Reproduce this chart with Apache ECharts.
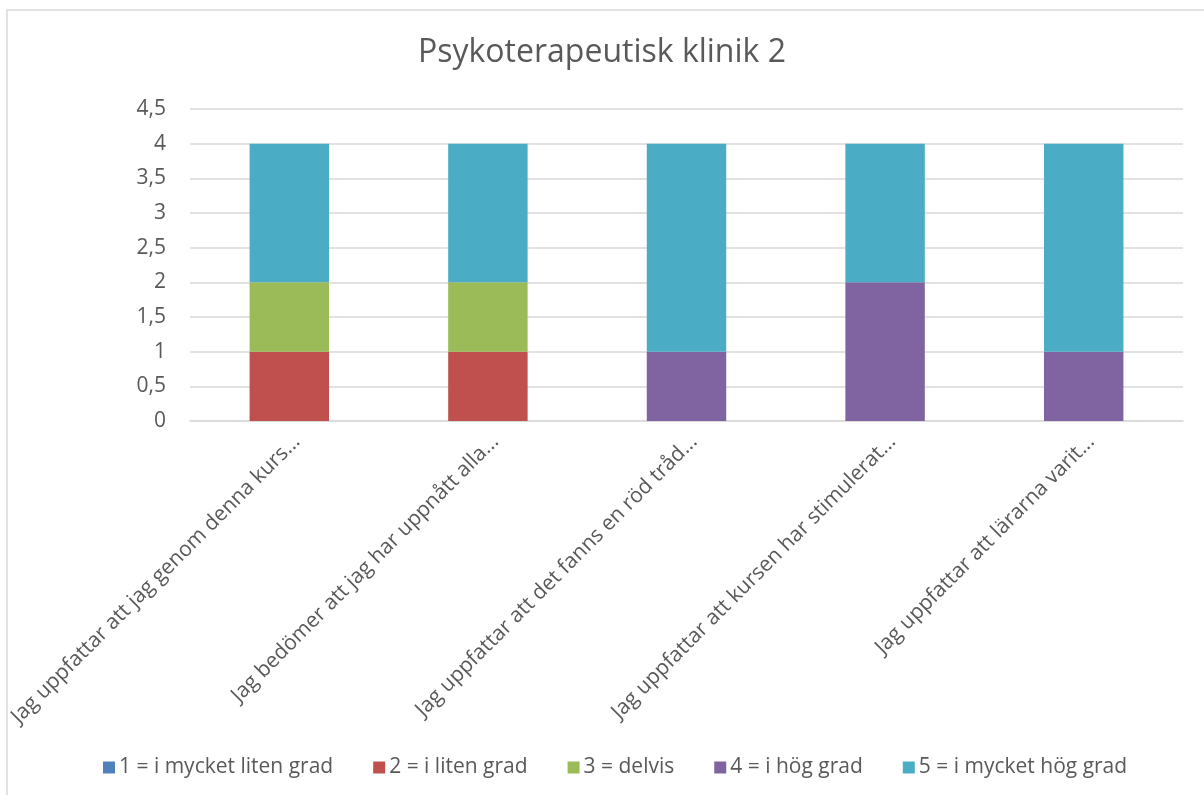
<!DOCTYPE html>
<html>
<head>
<meta charset="utf-8">
<script src="https://cdn.jsdelivr.net/npm/echarts@6/dist/echarts.min.js"></script>
<style>
html,body{margin:0;padding:0;background:#fff;}
#chart{width:1204px;height:795px;}
</style>
</head>
<body>
<div id="chart"></div>
<script>
const title = "Psykoterapeutisk klinik 2";
const categories = [
  "Jag uppfattar att jag genom denna kurs...",
  "Jag bedömer att jag har uppnått alla...",
  "Jag uppfattar att det fanns en röd tråd...",
  "Jag uppfattar att kursen har stimulerat...",
  "Jag uppfattar att lärarna varit..."
];
const seriesNames = ["1 = i mycket liten grad", "2 = i liten grad", "3 = delvis", "4 = i hög grad", "5 = i mycket hög grad"];
const s1 = [0, 0, 0, 0, 0];
const s2 = [1, 1, 0, 0, 0];
const s3 = [1, 1, 0, 0, 0];
const s4 = [0, 0, 1, 2, 1];
const s5 = [2, 2, 3, 2, 3];
const colors = ["#4F81BD", "#C0504D", "#9BBB59", "#8064A2", "#4BACC6"];

const FONT = "'Open Sans', sans-serif";
const values = [s1, s2, s3, s4, s5];

const chart = echarts.init(document.getElementById('chart'));
chart.setOption({
  animation: false,
  color: colors,
  textStyle: {fontFamily: FONT},
  title: {
    text: title, left: 'center', top: 32,
    textStyle: {fontFamily: FONT, fontSize: 32, fontWeight: 'normal', color: '#595959'}
  },
  graphic: [{
    type: 'rect', silent: true, z: -1,
    shape: {x: 7, y: 10, width: 1220, height: 820},
    style: {fill: 'none', stroke: '#d9d9d9', lineWidth: 1.5}
  }],
  legend: {
    bottom: 12, left: 98, itemWidth: 12, itemHeight: 12, itemGap: 40,
    icon: 'rect',
    textStyle: {fontFamily: FONT, fontSize: 21, color: '#595959', padding: [0, 0, 0, -1]},
    data: seriesNames
  },
  grid: {left: 190, right: 21, top: 109, bottom: 374, containLabel: false},
  xAxis: {
    type: 'category', data: categories,
    axisLine: {show: true, lineStyle: {color: '#d9d9d9', width: 1.5}},
    axisTick: {show: false},
    axisLabel: {rotate: 45, interval: 0, fontFamily: FONT, fontSize: 21, color: '#595959', margin: 10, verticalAlign: 'top'}
  },
  yAxis: {
    type: 'value', min: 0, max: 4.5, interval: 0.5,
    axisLine: {show: false}, axisTick: {show: false},
    splitLine: {lineStyle: {color: '#d9d9d9', width: 1.5}},
    axisLabel: {
      fontFamily: FONT, fontSize: 21, color: '#595959', margin: 24,
      formatter: v => String(v).replace('.', ',')
    }
  },
  series: seriesNames.map((n, i) => ({
    name: n, type: 'bar', stack: 'total', data: values[i],
    barWidth: '40%', itemStyle: {color: colors[i]}
  }))
});
</script>
</body>
</html>
